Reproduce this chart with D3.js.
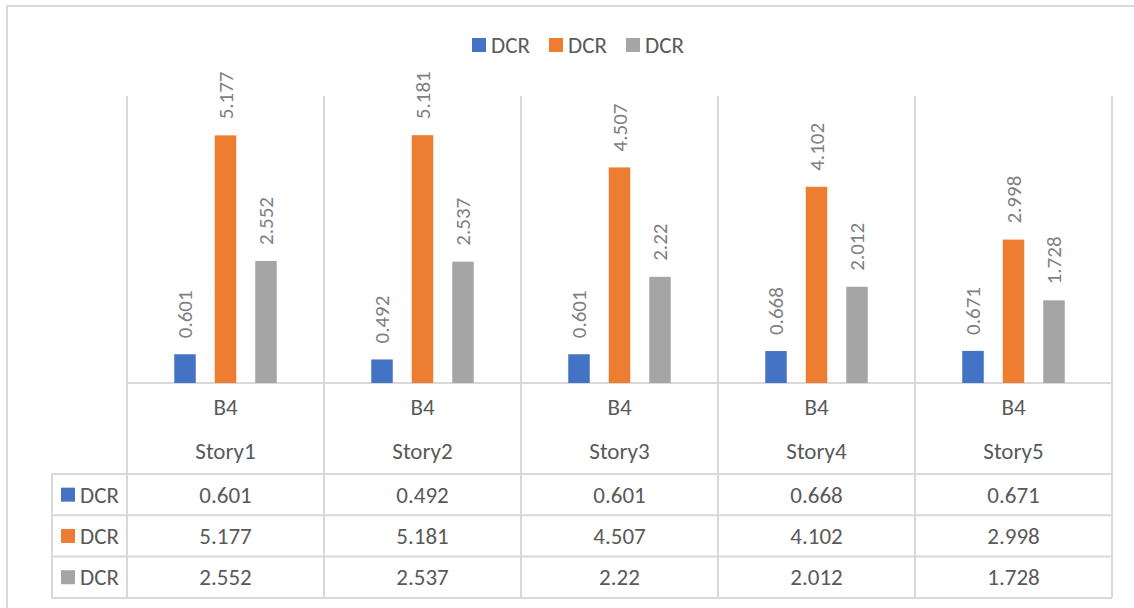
<!DOCTYPE html>
<html>
  <head>
    <meta charset="utf-8"/>
    <style>
      body { margin: 0; background: #fff; }
      text { font-family: Calibri, Carlito, "Open Sans", sans-serif; }
    </style>
  </head>
  <body>
    <script src="https://d3js.org/d3.v7.min.js"></script>
    <script type="text/javascript">
      var width = 1134, height = 608;

      // data
      var stories = ["Story1", "Story2", "Story3", "Story4", "Story5"];
      var members = ["B4", "B4", "B4", "B4", "B4"];
      var seriesNames = ["DCR", "DCR", "DCR"];
      var seriesColors = ["#4472C4", "#ED7D31", "#A5A5A5"];
      var dcr1 = [0.601, 0.492, 0.601, 0.668, 0.671];
      var dcr2 = [5.177, 5.181, 4.507, 4.102, 2.998];
      var dcr3 = [2.552, 2.537, 2.22, 2.012, 1.728];
      var yTicks = [0, 1, 2, 3, 4, 5, 6];

      var values = [dcr1, dcr2, dcr3];
      var gridColor = "#d9d9d9", textColor = "#595959";
      var fs = 23, labelFs = 21;

      var svg = d3.select("body")
                  .append("svg")
                  .attr("width", width)
                  .attr("height", height);

      // chart frame (only top and left edges are visible in the crop)
      svg.append("rect")
         .attr("x", 7).attr("y", 6)
         .attr("width", 1140).attr("height", 620)
         .attr("fill", "none")
         .attr("stroke", gridColor)
         .attr("stroke-width", 2);

      var plotLeft = 127, plotRight = 1112, plotTop = 96, baseY = 383;
      var x = d3.scaleBand().domain(d3.range(stories.length)).range([plotLeft, plotRight]);
      var y = d3.scaleLinear().domain([0, d3.max(yTicks)]).range([baseY, plotTop]);
      var xs = d3.scaleBand().domain(d3.range(seriesNames.length))
                 .range([-51.25, 51.25]).paddingInner(0.469);

      // table rows
      var tableLeft = 52, rowTop = 474, rowH = 41.3;
      var rowY = d3.scaleLinear().domain([0, 3]).range([rowTop, rowTop + 3 * rowH]);

      var g = svg.append("g");

      // separators between categories, running through the table
      g.selectAll(".sep")
       .data(d3.range(stories.length + 1))
       .enter().append("line")
       .attr("x1", function(i) { return plotLeft + i * x.step(); })
       .attr("x2", function(i) { return plotLeft + i * x.step(); })
       .attr("y1", plotTop).attr("y2", rowY(3))
       .attr("stroke", gridColor).attr("stroke-width", 2);

      // axis line
      g.append("line")
       .attr("x1", plotLeft).attr("x2", plotRight)
       .attr("y1", baseY).attr("y2", baseY)
       .attr("stroke", gridColor).attr("stroke-width", 2);

      // table horizontal lines
      g.selectAll(".hrow")
       .data(d3.range(4))
       .enter().append("line")
       .attr("x1", tableLeft).attr("x2", plotRight)
       .attr("y1", function(r) { return rowY(r); })
       .attr("y2", function(r) { return rowY(r); })
       .attr("stroke", gridColor).attr("stroke-width", 2);

      g.append("line")
       .attr("x1", tableLeft).attr("x2", tableLeft)
       .attr("y1", rowY(0)).attr("y2", rowY(3))
       .attr("stroke", gridColor).attr("stroke-width", 2);

      // bars and rotated labels
      values.forEach(function(vals, s) {
        var sg = svg.append("g");
        sg.selectAll("rect")
          .data(vals)
          .enter().append("rect")
          .attr("x", function(d, i) { return x(i) + x.bandwidth() / 2 + xs(s); })
          .attr("y", function(d) { return y(d); })
          .attr("width", xs.bandwidth())
          .attr("height", function(d) { return baseY - y(d); })
          .attr("fill", seriesColors[s]);

        sg.selectAll("text")
          .data(vals)
          .enter().append("text")
          .attr("transform", function(d, i) {
            var cx = x(i) + x.bandwidth() / 2 + xs(s) + xs.bandwidth() / 2;
            return "translate(" + cx + "," + (y(d) - 16) + ") rotate(-90)";
          })
          .attr("dy", "0.35em")
          .attr("font-size", labelFs)
          .attr("fill", "#7f7f7f")
          .text(function(d) { return d; });

        // table row
        var ry = rowY(s) + rowH / 2;
        sg.append("rect")
          .attr("x", 61).attr("y", ry - 7)
          .attr("width", 14).attr("height", 14)
          .attr("fill", seriesColors[s]);
        sg.append("text")
          .attr("x", 80).attr("y", ry)
          .attr("dy", "0.35em")
          .attr("font-size", fs)
          .attr("fill", textColor)
          .text(seriesNames[s]);
        sg.selectAll(".cell")
          .data(vals)
          .enter().append("text")
          .attr("x", function(d, i) { return x(i) + x.bandwidth() / 2; })
          .attr("y", ry)
          .attr("dy", "0.35em")
          .attr("text-anchor", "middle")
          .attr("font-size", fs)
          .attr("fill", textColor)
          .text(function(d) { return d; });
      });

      // category labels (two levels)
      svg.selectAll(".mem")
         .data(members)
         .enter().append("text")
         .attr("x", function(d, i) { return x(i) + x.bandwidth() / 2; })
         .attr("y", 407)
         .attr("dy", "0.35em")
         .attr("text-anchor", "middle")
         .attr("font-size", fs)
         .attr("fill", textColor)
         .text(function(d) { return d; });

      svg.selectAll(".story")
         .data(stories)
         .enter().append("text")
         .attr("x", function(d, i) { return x(i) + x.bandwidth() / 2; })
         .attr("y", 451)
         .attr("dy", "0.35em")
         .attr("text-anchor", "middle")
         .attr("font-size", fs)
         .attr("fill", textColor)
         .text(function(d) { return d; });

      // legend
      var leg = svg.append("g");
      var legX = d3.scaleLinear().domain([0, 1]).range([472, 549]);
      seriesNames.forEach(function(name, s) {
        leg.append("rect")
           .attr("x", legX(s)).attr("y", 38)
           .attr("width", 14).attr("height", 14)
           .attr("fill", seriesColors[s]);
        leg.append("text")
           .attr("x", legX(s) + 19).attr("y", 45)
           .attr("dy", "0.35em")
           .attr("font-size", fs)
           .attr("fill", textColor)
           .text(name);
      });
    </script>
  </body>
</html>
